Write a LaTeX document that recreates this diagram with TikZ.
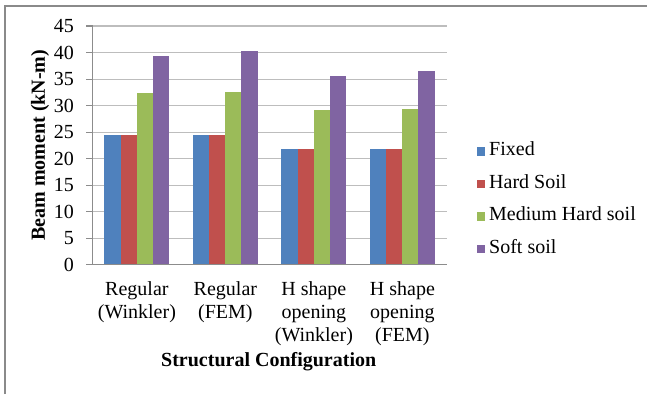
\documentclass[tikz,border=0pt]{standalone}
\usepackage{fontspec}
\setmainfont{Liberation Serif}
\definecolor{cFixed}{HTML}{4F81BD}
\definecolor{cHard}{HTML}{C0504D}
\definecolor{cMed}{HTML}{9BBB59}
\definecolor{cSoft}{HTML}{8064A2}
\definecolor{framegray}{HTML}{8A8A8A}
\definecolor{gridgray}{HTML}{BDBDBD}
\definecolor{axisgray}{HTML}{8C8C8C}
\begin{document}
\begin{tikzpicture}[x=1pt,y=-1pt,
  lbl/.style={font=\fontsize{20}{23}\selectfont, inner sep=0pt},
  ttl/.style={font=\bfseries\fontsize{20}{23}\selectfont, inner sep=0pt},
  gridline/.style={gridgray, line width=1.1pt},
  axisline/.style={axisgray, line width=1.1pt}]
\useasboundingbox (0,0) rectangle (647,394);
\fill[white] (0,0) rectangle (647,394);
\draw[framegray, line width=1.6pt] (5,394) -- (5,6) -- (647,6);
% gridlines and tick labels
\foreach \v in {5,10,...,45}
  \draw[gridline] (86,{264.7-\v*5.304}) -- (446.7,{264.7-\v*5.304});
\foreach \v in {0,5,...,45}
  \node[lbl, anchor=east] (t\v) at (74,{264.7-\v*5.304}) {\v};
% bars
\foreach \g/\a/\b/\c/\d in {0/24.4/24.4/32.3/39.3, 1/24.4/24.4/32.5/40.3, 2/21.9/21.9/29.2/35.6, 3/21.9/21.9/29.4/36.6}{
  \foreach \val/\col [count=\i from 0] in {\a/cFixed,\b/cHard,\c/cMed,\d/cSoft}
    \fill[\col] ({104.3+\g*88.5+\i*16.2},264.7) rectangle ({104.3+\g*88.5+(\i+1)*16.2},{264.7-\val*5.304});
}
% axes
\draw[axisline] (92.7,26) -- (92.7,264.7);
\draw[axisline] (86,264.7) -- (446.7,264.7);
\foreach \v in {5,10,...,45}
  \draw[axisline] (86,{264.7-\v*5.304}) -- (92.7,{264.7-\v*5.304});
% category labels
\node[lbl, anchor=north, align=center] (c1) at (136.9,281.3) {Regular\\(Winkler)};
\node[lbl, anchor=north, align=center] (c2) at (225.4,281.3) {Regular\\(FEM)};
\node[lbl, anchor=north, align=center] (c3) at (313.9,281.3) {H shape\\opening\\(Winkler)};
\node[lbl, anchor=north, align=center] (c4) at (402.4,281.3) {H shape\\opening\\(FEM)};
% titles
\node[ttl] (xt) at (268.7,361.7) {Structural Configuration};
\node[ttl, rotate=90] (yt) at (40,145.3) {Beam moment (kN-m)};
% legend
\foreach \y/\col/\txt [count=\k] in {155.7/cFixed/Fixed, 188.2/cHard/Hard Soil, 220.7/cMed/Medium Hard soil, 253.2/cSoft/Soft soil}{
  \fill[\col] (476.5,\y) rectangle (485,{\y-8.5});
  \node[lbl, anchor=base west] (lg\k) at (489,\y) {\txt};
}
\end{tikzpicture}
\end{document}
